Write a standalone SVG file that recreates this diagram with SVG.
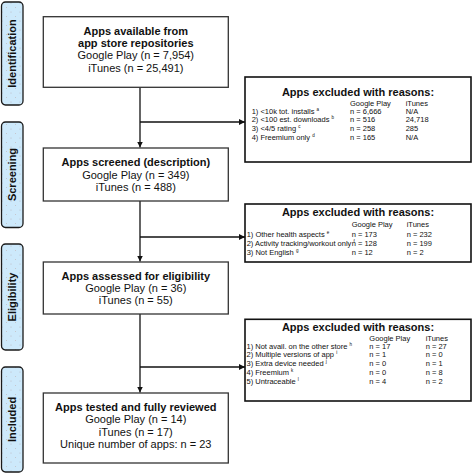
<svg xmlns="http://www.w3.org/2000/svg" width="473" height="473" viewBox="0 0 473 473">
<style>
.side{fill:url(#dots);stroke:#1a1a1a;stroke-width:1.3}
.sideT{font-family:"Liberation Sans",Arial,sans-serif;font-weight:bold;font-size:11px;fill:#111;text-anchor:middle}
.box{fill:#fff;stroke:#333;stroke-width:1.3}
.rbox{fill:#fff;stroke:#111;stroke-width:1.6}
.bt{font-family:"Liberation Sans",Arial,sans-serif;font-size:11px;fill:#111;text-anchor:middle}
.b{font-weight:bold}
.ttl{font-family:"Liberation Sans",Arial,sans-serif;font-size:11px;font-weight:bold;fill:#111;text-anchor:middle}
.t{font-family:"Liberation Sans",Arial,sans-serif;font-size:7.5px;fill:#111}
.sup{font-size:4.5px}
.ln{stroke:#111;stroke-width:1.3;fill:none}
</style>
<defs>
<pattern id="dots" width="9" height="9" patternUnits="userSpaceOnUse">
<rect width="9" height="9" fill="#cde9fb"/>
<circle cx="2" cy="3" r="0.5" fill="#b9b0b8"/>
<circle cx="6.5" cy="7.5" r="0.5" fill="#c4bcc0"/>
</pattern>
<marker id="ah" viewBox="0 0 10 10" refX="10" refY="5" markerWidth="6" markerHeight="6" markerUnits="userSpaceOnUse" orient="auto">
<path d="M0,0 L10,5 L0,10 z" fill="#111"/>
</marker>
</defs>

<g id="side-identification">
<rect class="side" x="1.5" y="2" width="21.5" height="103" rx="4"/>
<text class="sideT" transform="translate(16,53.5) rotate(-90)">Identification</text>
</g>
<g id="side-screening">
<rect class="side" x="1.5" y="122" width="21.5" height="105.5" rx="4"/>
<text class="sideT" transform="translate(16,174.5) rotate(-90)">Screening</text>
</g>
<g id="side-eligibility">
<rect class="side" x="1.5" y="244" width="21.5" height="106" rx="4"/>
<text class="sideT" transform="translate(16,297) rotate(-90)">Eligibility</text>
</g>
<g id="side-included">
<rect class="side" x="1.5" y="367" width="21.5" height="105" rx="4"/>
<text class="sideT" transform="translate(16,419.5) rotate(-90)">Included</text>
</g>

<g id="connectors">
<path class="ln" d="M140,87.3 V147.5" marker-end="url(#ah)"/>
<path class="ln" d="M140,122 H245" marker-end="url(#ah)"/>
<path class="ln" d="M140,201 V261.5" marker-end="url(#ah)"/>
<path class="ln" d="M140,237 H245" marker-end="url(#ah)"/>
<path class="ln" d="M140,314 V392.5" marker-end="url(#ah)"/>
<path class="ln" d="M140,367 H245" marker-end="url(#ah)"/>
</g>

<g id="box-available">
<rect class="box" x="43.3" y="16.7" width="185" height="70.6"/>
<text class="bt b" x="135.8" y="35">Apps available from</text>
<text class="bt b" x="135.8" y="47.3">app store repositories</text>
<text class="bt" x="135.8" y="59.3">Google Play (n = 7,954)</text>
<text class="bt" x="135.8" y="71.7">iTunes (n = 25,491)</text>
</g>

<g id="box-screened">
<rect class="box" x="43.3" y="148" width="185" height="53"/>
<text class="bt b" x="135.8" y="166.3">Apps screened (description)</text>
<text class="bt" x="135.8" y="178.5">Google Play (n = 349)</text>
<text class="bt" x="135.8" y="190.7">iTunes (n = 488)</text>
</g>

<g id="box-eligibility">
<rect class="box" x="43.3" y="262" width="185" height="52"/>
<text class="bt b" x="135.8" y="279.7">Apps assessed for eligibility</text>
<text class="bt" x="135.8" y="292">Google Play (n = 36)</text>
<text class="bt" x="135.8" y="304.2">iTunes (n = 55)</text>
</g>

<g id="box-included">
<rect class="box" x="43.3" y="393" width="185" height="70"/>
<text class="bt b" x="135.8" y="410.7">Apps tested and fully reviewed</text>
<text class="bt" x="135.8" y="423">Google Play (n = 14)</text>
<text class="bt" x="135.8" y="435.5">iTunes (n = 17)</text>
<text class="bt" x="135.8" y="448">Unique number of apps: n = 23</text>
</g>

<g id="excluded-1">
<rect class="rbox" x="245" y="77" width="226" height="85"/>
<text class="ttl" x="358" y="96.3">Apps excluded with reasons:</text>
<text class="t" x="350" y="105.5">Google Play</text>
<text class="t" x="405.7" y="105.5">iTunes</text>
<text class="t" x="251.7" y="113.7">1) &lt;10k tot. installs <tspan class="sup" dy="-3">a</tspan></text>
<text class="t" x="350" y="113.7">n = 6,666</text>
<text class="t" x="405.7" y="113.7">N/A</text>
<text class="t" x="251.7" y="122.3">2) &lt;100 est. downloads <tspan class="sup" dy="-3">b</tspan></text>
<text class="t" x="350" y="122.3">n = 516</text>
<text class="t" x="405.7" y="122.3">24,718</text>
<text class="t" x="251.7" y="131">3) &lt;4/5 rating <tspan class="sup" dy="-3">c</tspan></text>
<text class="t" x="350" y="131">n = 258</text>
<text class="t" x="405.7" y="131">285</text>
<text class="t" x="251.7" y="139.7">4) Freemium only <tspan class="sup" dy="-3">d</tspan></text>
<text class="t" x="350" y="139.7">n = 165</text>
<text class="t" x="405.7" y="139.7">N/A</text>
</g>

<g id="excluded-2">
<rect class="rbox" x="245" y="204" width="226" height="58"/>
<text class="ttl" x="358" y="215.7">Apps excluded with reasons:</text>
<text class="t" x="351.7" y="227">Google Play</text>
<text class="t" x="406.7" y="227">iTunes</text>
<text class="t" x="246.7" y="237">1) Other health aspects <tspan class="sup" dy="-3">e</tspan></text>
<text class="t" x="351.7" y="237">n = 173</text>
<text class="t" x="406.7" y="237">n = 232</text>
<text class="t" x="246.7" y="246">2) Activity tracking/workout only <tspan class="sup" dy="-3">f</tspan></text>
<text class="t" x="351.7" y="246">n = 128</text>
<text class="t" x="406.7" y="246">n = 199</text>
<text class="t" x="246.7" y="254.6">3) Not English <tspan class="sup" dy="-3">g</tspan></text>
<text class="t" x="351.7" y="254.6">n = 12</text>
<text class="t" x="406.7" y="254.6">n = 2</text>
</g>

<g id="excluded-3">
<rect class="rbox" x="245" y="319.3" width="226" height="81.7"/>
<text class="ttl" x="358" y="330.7">Apps excluded with reasons:</text>
<text class="t" x="369.3" y="341.3">Google Play</text>
<text class="t" x="425.7" y="341.3">iTunes</text>
<text class="t" x="246.5" y="349">1) Not avail. on the other store <tspan class="sup" dy="-3">h</tspan></text>
<text class="t" x="369.3" y="349">n = 17</text>
<text class="t" x="425.7" y="349">n = 27</text>
<text class="t" x="246.5" y="357.3">2) Multiple versions of app <tspan class="sup" dy="-3">i</tspan></text>
<text class="t" x="369.3" y="357.3">n = 1</text>
<text class="t" x="425.7" y="357.3">n = 0</text>
<text class="t" x="246.5" y="365.7">3) Extra device needed <tspan class="sup" dy="-3">j</tspan></text>
<text class="t" x="369.3" y="365.7">n = 0</text>
<text class="t" x="425.7" y="365.7">n = 1</text>
<text class="t" x="246.5" y="374.7">4) Freemium <tspan class="sup" dy="-3">k</tspan></text>
<text class="t" x="369.3" y="374.7">n = 0</text>
<text class="t" x="425.7" y="374.7">n = 8</text>
<text class="t" x="246.5" y="383.7">5) Untraceable <tspan class="sup" dy="-3">l</tspan></text>
<text class="t" x="369.3" y="383.7">n = 4</text>
<text class="t" x="425.7" y="383.7">n = 2</text>
</g>
</svg>
